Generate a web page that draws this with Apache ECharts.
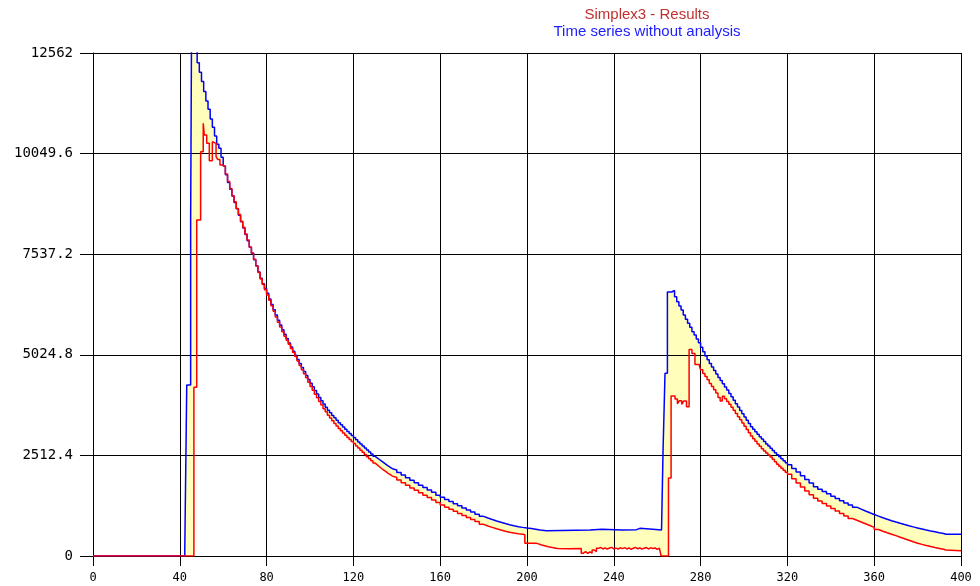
<!DOCTYPE html>
<html><head><meta charset="utf-8">
<script src="https://cdn.jsdelivr.net/npm/echarts@6/dist/echarts.min.js"></script>
<style>html,body{margin:0;padding:0;background:#fff}#c{width:980px;height:586px}</style>
</head><body><div id="c"></div>
<script>
// ---- data (x = time step, y = value) ----
const yTickLabels = ['0', '2512.4', '5024.8', '7537.2', '10049.6', '12562'];
const xTickLabels = ['0','40','80','120','160','200','240','280','320','360','400'];

// Time series without analysis (blue)
const blueRise = [[0,0],[42.3,175],[43.2,4270],[45,8400],[45.4,13000]];
const blueDecay1 = [12320,12083,11848,11598,11366,11158,10916,10709,10492,10284,10184,9959,
  9740,9520,9330,9160,8990,8830,8670,8510,8350,8190,8030,7870,7710,7560,7400,7250,7090,6935,6800,6680,
  6560,6420,6280,6150,6020,5890,5770,5650,5540,5430,5320,5220,5115,5015,4910,4810,4710,4610,4510,4410,
  4315,4225,4135,4045,3960,3875,3795,3715,3640,3575,3510,3450,3390,3330,3275,3220,3165,3110,3060,3010,
  2960,2905,2850,2800,2750,2700,2650,2600,2550,2490,2450,2410,2370,2330,2290,2250,2215,2180,2150]; // x = 48..138
const blueDecay2 = [2085,2020,1955,1890,1830,1770,1710,1650,1590,1520,1466,1413,1360,1307,1254,1201,1148,
  1096,1044,990,950,912,876,842,810,780,755,733,715,700,688,670,650,632]; // x = 140..206 step 2
const blueFlat = [[209,649],[229,666],[234.5,649],[244,658],[250.5,690],[252,666],[258,649],[262,666],
  [262.7,2647],[263.6,4562],[264.7,6593],[266.7,6630]];
const blueDecay3 = [6476,6351,6244,6144,6019,5911,5811,5712,5602,5519,5419,5327,5212,5102,4995,4900,4810,
  4720,4630,4545,4460,4380,4300,4220,4146,4060,3975,3890,3805,3720,3635,3550,3470,3390,3310,3230,3165,
  3100,3040,2980,2920,2860,2800,2745,2690,2635,2580,2530,2480,2430,2380,2330,2280]; // x = 268..320
const blueDecay4 = [2188,2096,2004,1912,1820,1728,1668,1610,1552,1494,1436,1380,1325,1272,1220,1172,1125,
  1080,1037,995,955,918,882,848,816,785,755,727,700,675,650,626,604,582,562,545]; // x = 322..392 step 2
const blueTail = [[393,541],[400,541]];

// Simplex3 - Results (red)
const redRise = [[0,0],[46.5,4213],[47.8,8390],[49.6,10098],[50.8,10806],[51.3,10514],[52.4,10306],
  [53.6,9872],[55,10348],[55.9,10306],[56.7,9972],[57.5,9900],[58.5,9765]];
const redDecay1 = [9720,9540,9350,9180,9000,8850,8680,8530,8360,8210,8040,7890,7720,7570,7410,7240,7080,
  6920,6780,6650,6520,6390,6250,6110,5970,5840,5720,5600,5490,5390,5290,5180,5080,4980,4870,4760,4650,
  4550,4450,4340,4235,4140,4040,3950,3860,3770,3680,3600,3515,3445,3375,3310,3245,3185,3125,3070,3015,
  2960,2910,2860,2810,2750,2695,2640,2590,2535,2480,2430,2380,2320,2275,2230,2185,2145,2105,2065,2030,
  1995,1960]; // x = 60..138
const redDecay2 = [1895,1830,1765,1700,1640,1580,1520,1460,1400,1335,1272,1220,1168,1116,1064,1012,960,
  910,860,790,750,715,682,650,620,592,572,555,545,530]; // x = 140..198 step 2
const redLow = [[199,316],[204.5,275],[206.8,233],[209.8,190],[214,180],[219,190],[225,70],[226,110],
  [227,65],[228,105],[229,70],[230,150],[231,110]];
const redJagged = [195,210,175,205,170,200,215,180,195,170,205,185,210,175,200,165,195,215,180,200,170,
  195,210,175,205,185,200,165,195,185]; // x = 232..261
const redPeak2 = [[261.8,0],[265.2,1948],[266.4,3996],[268.2,3920],[269.3,3800],[270.2,3880],[271.3,3790],
  [272.2,3870],[273.5,3730],[274.7,5160],[276,5060],[277.4,4780],[279.5,4730]];
const redDecay3 = [4650,4560,4480,4400,4310,4230,4150,4070,3960,3870,3990,3930,3860,3790,3715,3640,3560,
  3480,3400,3320,3240,3160,3080,3000,2930,2865,2800,2740,2680,2625,2570,2520,2470,2415,2355,2290,2240,
  2190,2140,2090,2040]; // x = 280..320
const redDecay4 = [1930,1825,1725,1625,1530,1441,1376,1311,1247,1184,1121,1059,998,937,893,848,804,760,
  716,660,620,582,545,508,470,432,394,356,320,290,262,236,212,190,168,148]; // x = 322..392 step 2
const redTail = [[393,133],[400,133]];

function seq(from, step, values) { return values.map((v, i) => [from + i * step, v]); }

const blueData = [].concat(blueRise, seq(48,1,blueDecay1), seq(140,2,blueDecay2), blueFlat,
  seq(268,1,blueDecay3), seq(322,2,blueDecay4), blueTail);
const redData = [].concat(redRise, seq(60,1,redDecay1), seq(140,2,redDecay2), redLow,
  seq(232,1,redJagged), redPeak2, seq(280,1,redDecay3), seq(322,2,redDecay4), redTail);

const chart = echarts.init(document.getElementById('c'), null, {renderer: 'canvas'});
const monoFont = 'DejaVu Sans Mono';
chart.setOption({
  animation: false,
  backgroundColor: '#ffffff',
  graphic: [
    {type: 'text', x: 647, y: 15, z: 10, style: {text: 'Simplex3 - Results', fill: '#c03030',
      font: '15px "Liberation Sans", Arial, sans-serif', textAlign: 'center', textVerticalAlign: 'middle'}},
    {type: 'text', x: 647, y: 32, z: 10, style: {text: 'Time series without analysis', fill: '#2020ff',
      font: '15px "Liberation Sans", Arial, sans-serif', textAlign: 'center', textVerticalAlign: 'middle'}}
  ],
  grid: {left: 93, right: 19, top: 53, bottom: 30, containLabel: false},
  xAxis: {
    type: 'value', min: 0, max: 400, interval: 40, z: 3,
    axisLine: {show: true, onZero: false, lineStyle: {color: '#000', width: 1}},
    axisTick: {show: true, length: 10, lineStyle: {color: '#000'}},
    splitLine: {show: true, lineStyle: {color: '#000', width: 1}},
    axisLabel: {color: '#000', fontFamily: monoFont, fontSize: 12, margin: 16,
      formatter: v => xTickLabels[Math.round(v / 40)] || String(v)}
  },
  yAxis: {
    type: 'value', min: 0, max: 12562, interval: 2512.4, z: 3,
    axisLine: {show: true, lineStyle: {color: '#000', width: 1}},
    axisTick: {show: true, length: 13, lineStyle: {color: '#000'}},
    splitLine: {show: true, lineStyle: {color: '#000', width: 1}},
    axisLabel: {color: '#000', fontFamily: monoFont, fontSize: 14, margin: 20,
      formatter: v => yTickLabels[Math.round(v / 2512.4)] || String(v)}
  },
  series: [
    {name: 'blueArea', type: 'line', step: 'end', data: blueData, symbol: 'none', silent: true, z: 1,
      lineStyle: {width: 0, opacity: 0}, areaStyle: {color: '#ffffbb', opacity: 1}},
    {name: 'redArea', type: 'line', step: 'end', data: redData, symbol: 'none', silent: true, z: 2,
      lineStyle: {width: 0, opacity: 0}, areaStyle: {color: '#ffffff', opacity: 1}},
    {name: 'Time series without analysis', type: 'line', step: 'end', data: blueData, symbol: 'none', z: 4,
      lineStyle: {color: '#0000ff', width: 1.5}},
    {name: 'Simplex3 - Results', type: 'line', step: 'end', data: redData, symbol: 'none', z: 5,
      lineStyle: {color: '#ff0000', width: 1.5}}
  ]
});
</script></body></html>
